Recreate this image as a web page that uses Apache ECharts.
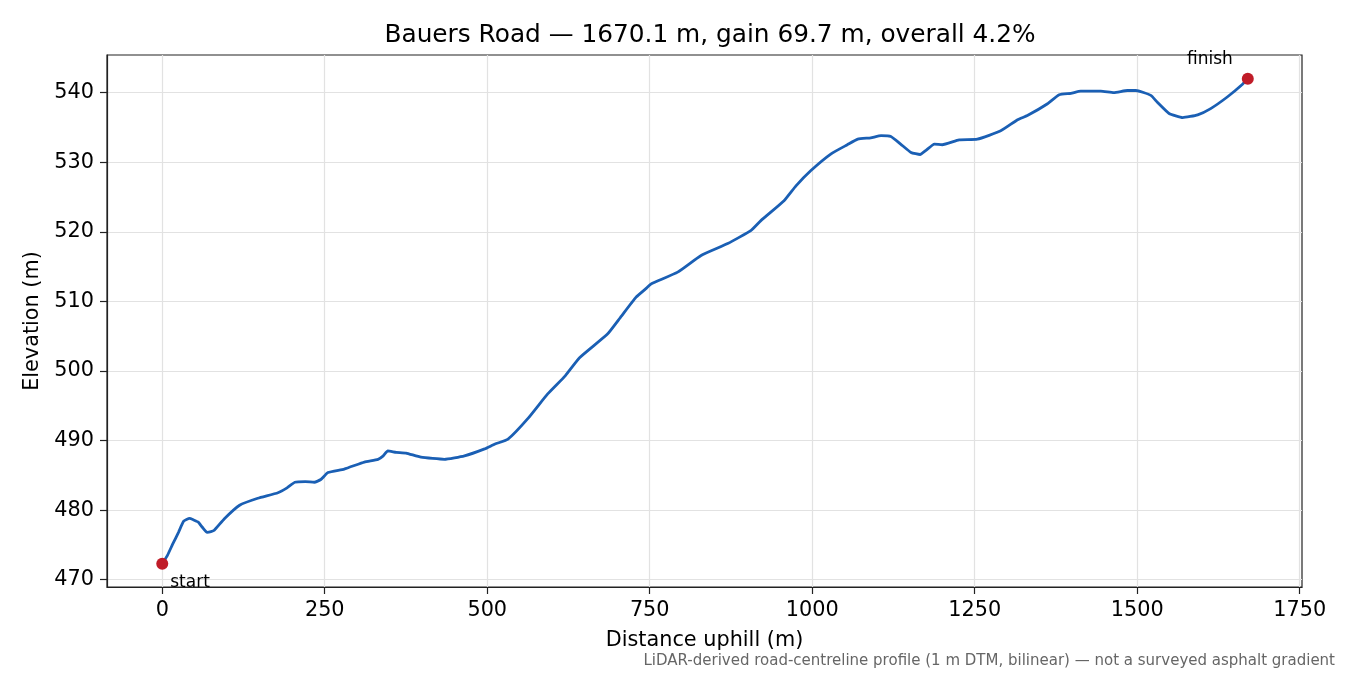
<!DOCTYPE html>
<html lang="en">
<head>
    <meta charset="utf-8">
    <title>Bauers Road profile</title>
    <script src="https://cdn.jsdelivr.net/npm/echarts@6/dist/echarts.min.js"></script>
    <style>
        html, body { margin: 0; padding: 0; background: #fff; }
        #main { width: 1350px; height: 675px; }
    </style>
</head>
<body>
    <div id="main"></div>

    <script type="text/javascript">

    // distance along the road (m) and elevation (m)
    var distance = [0, 8, 16, 25, 33, 42, 48, 55, 62, 69, 75, 80, 96, 119, 147, 178, 192, 204, 220, 234,
        244, 255, 280, 311, 332, 340, 347, 360, 375, 398, 434, 465, 496, 512, 532, 562, 593, 620, 642, 685,
        705, 729, 745, 752, 793, 829, 870, 906, 921, 957, 975, 998, 1029, 1054, 1070, 1090, 1106, 1121, 1136, 1152,
        1166, 1175, 1188, 1200, 1226, 1254, 1290, 1316, 1331, 1362, 1380, 1398, 1413, 1444, 1464, 1485, 1498, 1521, 1531, 1549,
        1570, 1593, 1613, 1639, 1662, 1670.1];
    var elevation = [472.3, 473.5, 475.1, 476.8, 478.4, 478.8, 478.6, 478.3, 477.5, 476.8, 476.9, 477.1, 478.8, 480.7, 481.7, 482.5, 483.2, 484.0, 484.1, 484.0,
        484.4, 485.4, 485.9, 486.9, 487.3, 487.8, 488.5, 488.3, 488.2, 487.6, 487.3, 487.8, 488.8, 489.5, 490.2, 493.1, 496.7, 499.3, 501.9, 505.3,
        507.7, 510.6, 511.9, 512.5, 514.2, 516.6, 518.3, 520.2, 521.6, 524.5, 526.6, 528.8, 531.2, 532.5, 533.3, 533.5, 533.8, 533.7, 532.6, 531.4,
        531.1, 531.7, 532.6, 532.5, 533.2, 533.3, 534.5, 536.1, 536.7, 538.4, 539.7, 539.9, 540.2, 540.2, 540.0, 540.3, 540.3, 539.6, 538.6, 537.0,
        536.4, 536.8, 537.7, 539.4, 541.2, 542.0];

    var xTicks = [0, 250, 500, 750, 1000, 1250, 1500, 1750];
    var yTicks = [470, 480, 490, 500, 510, 520, 530, 540];

    var endLabels = ['start', 'finish'];

    var profile = distance.map(function (d, i) { return [d, elevation[i]]; });
    var last = distance.length - 1;

    var font = 'DejaVu Sans';
    var plain = function (v) { return String(v); };   // no thousands separator

    var myChart = echarts.init(document.getElementById('main'));

    myChart.setOption({
        animation: false,
        backgroundColor: '#ffffff',
        title: [{
            text: 'Bauers Road \u2014 1670.1 m, gain 69.7 m, overall 4.2%',
            left: 705, top: 18, textAlign: 'center',
            textStyle: { fontFamily: font, fontSize: 24.8, fontWeight: 'normal', color: '#000' }
        }, {
            text: 'LiDAR-derived road-centreline profile (1 m DTM, bilinear) \u2014 not a surveyed asphalt gradient',
            right: 10, top: 649,
            textStyle: { fontFamily: font, fontSize: 15, fontWeight: 'normal', color: '#666' }
        }],
        grid: {
            left: 107, right: 48, top: 55, bottom: 88,
            show: true, borderColor: '#222', borderWidth: 1.2
        },
        xAxis: {
            type: 'value',
            min: -85, max: 1753.5,
            name: 'Distance uphill (m)',
            nameLocation: 'middle', nameGap: 43,
            nameTextStyle: { fontFamily: font, fontSize: 20.8, color: '#000' },
            axisLine: { show: true, onZero: false, lineStyle: { color: '#222', width: 1.2 } },
            axisTick: { show: true, length: 7, customValues: xTicks, lineStyle: { color: '#222', width: 1.2 } },
            axisLabel: { customValues: xTicks, formatter: plain, margin: 13, fontFamily: font, fontSize: 20.8, color: '#000' },
            splitLine: { show: true, lineStyle: { color: '#e2e2e2', width: 1.2 } }
        },
        yAxis: {
            type: 'value',
            min: 468.95, max: 545.4,
            name: 'Elevation (m)',
            nameLocation: 'middle', nameGap: 60,
            nameTextStyle: { fontFamily: font, fontSize: 20.8, color: '#000' },
            axisLine: { show: true, onZero: false, lineStyle: { color: '#222', width: 1.2 } },
            axisTick: { show: true, length: 7, customValues: yTicks, lineStyle: { color: '#222', width: 1.2 } },
            axisLabel: { customValues: yTicks, formatter: plain, margin: 13, fontFamily: font, fontSize: 20.8, color: '#000' },
            splitLine: { show: true, lineStyle: { color: '#e2e2e2', width: 1.2 } }
        },
        series: [{
            name: 'profile',
            type: 'line',
            data: profile,
            showSymbol: false,
            smooth: 0.15,
            lineStyle: { color: '#1a5fb4', width: 2.8 },
            z: 2
        }, {
            name: 'ends',
            type: 'scatter',
            symbolSize: 12,
            itemStyle: { color: '#c01c28', opacity: 1 },
            z: 3,
            data: [{
                value: profile[0],
                label: {
                    show: true, formatter: endLabels[0], position: 'right', offset: [-3, 19],
                    fontFamily: font, fontSize: 17, color: '#000'
                }
            }, {
                value: profile[last],
                label: {
                    show: true, formatter: endLabels[1], position: 'left', offset: [-4, -19],
                    fontFamily: font, fontSize: 17, color: '#000'
                }
            }]
        }]
    });

    </script>
</body>
</html>
